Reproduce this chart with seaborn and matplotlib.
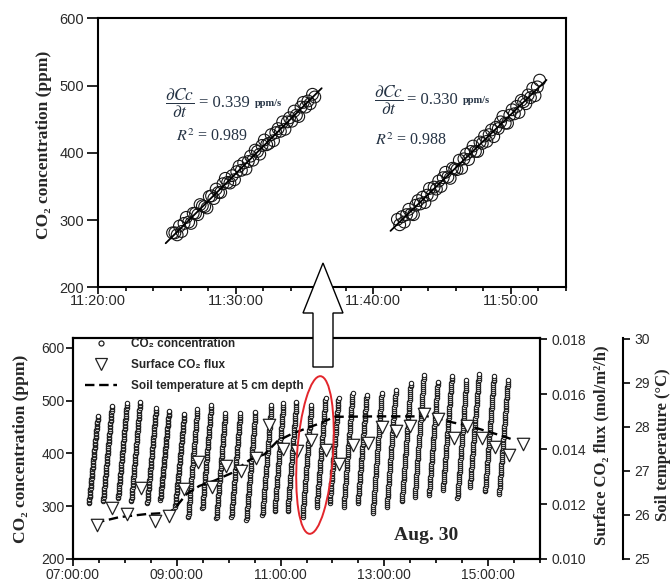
import numpy as np
import pandas as pd
import matplotlib
matplotlib.use("Agg")
import matplotlib.pyplot as plt
import seaborn as sns
from matplotlib.ticker import MultipleLocator, FixedLocator, FuncFormatter
from matplotlib.lines import Line2D
from matplotlib.patches import Polygon, Ellipse

# ---------------- data ----------------
# Detail view: two chamber closures, one reading every 10 s (ppm)
detail_starts = ["11:25:25", "11:41:45"]
detail_step_s = 10
detail_conc_1 = [281, 281, 278, 291, 283, 295, 304, 297, 295, 310, 310, 308, 323, 321, 320, 318,
                 335, 336, 332, 346, 341, 341, 354, 362, 356, 355, 366, 360, 372, 380, 374, 385,
                 376, 387, 395, 389, 404, 402, 398, 411, 419, 412, 414, 427, 418, 430, 436, 432,
                 446, 435, 446, 452, 447, 462, 456, 454, 468, 475, 468, 477, 473, 487, 483]
detail_conc_2 = [301, 293, 305, 297, 308, 316, 309, 308, 322, 329, 324, 334, 326, 337, 347, 337,
                 349, 346, 358, 350, 363, 371, 364, 362, 377, 376, 375, 389, 377, 391, 398, 390,
                 402, 410, 402, 402, 416, 414, 425, 417, 427, 434, 424, 438, 436, 446, 454, 444,
                 444, 456, 464, 458, 469, 460, 478, 476, 473, 486, 482, 496, 485, 498, 508]
detail_slopes = [0.339, 0.330]   # ppm/s
detail_r2 = [0.989, 0.988]

# Whole day (Aug. 30): chamber closures
cycle_start = ["07:18:30", "07:34:50", "07:52:10", "08:07:20", "08:25:50", "08:40:55",
               "08:58:20", "09:13:20", "09:29:35", "09:45:50", "10:03:10", "10:20:35",
               "10:39:05", "10:53:00", "11:08:05", "11:25:25", "11:41:45", "11:56:50",
               "12:13:00", "12:29:20", "12:46:40", "13:02:55", "13:20:20", "13:35:20",
               "13:51:35", "14:07:50", "14:24:35", "14:39:05", "14:56:30", "15:12:45"]
conc_open = [306, 309, 315, 309, 306, 312, 299, 279, 296, 277, 280, 274, 283, 290, 290,
             280, 299, 306, 299, 306, 287, 299, 309, 318, 321, 331, 315, 337, 328, 324]
conc_close = [471, 490, 495, 498, 486, 481, 475, 484, 492, 476, 476, 479, 492, 495, 498,
              492, 505, 505, 514, 511, 514, 520, 534, 548, 536, 547, 539, 550, 547, 539]
closure_s = 620
reading_step_s = 10

flux_time = ["07:28:10", "07:45:10", "08:02:35", "08:18:20", "08:35:05", "08:51:20", "09:07:50",
             "09:24:35", "09:40:20", "09:57:05", "10:13:55", "10:31:50", "10:47:10", "11:02:35",
             "11:19:05", "11:35:00", "11:52:10", "12:07:35", "12:23:50", "12:41:10", "12:57:05",
             "13:13:20", "13:29:35", "13:45:50", "14:02:25", "14:20:10", "14:35:40", "14:52:40",
             "15:08:30", "15:24:35", "15:40:55"]
flux = [0.01124, 0.01185, 0.01164, 0.01258, 0.01140, 0.01155, 0.01256, 0.01353, 0.01262,
        0.01338, 0.01320, 0.01367, 0.01489, 0.01400, 0.01394, 0.01433, 0.01395, 0.01344,
        0.01415, 0.01422, 0.01481, 0.01465, 0.01484, 0.01528, 0.01509, 0.01440, 0.01484,
        0.01439, 0.01407, 0.01378, 0.01419]

temp_time = ["07:25:30", "07:53:20", "08:24:40", "08:51:20", "08:59:25", "09:11:00", "09:26:05",
             "09:43:30", "10:04:20", "10:24:05", "10:41:30", "10:56:30", "11:12:45", "11:30:05",
             "11:45:15", "12:02:35", "12:54:45", "13:52:45", "14:19:25", "14:39:05", "14:58:50",
             "15:17:25", "15:30:05"]
soil_temp = [25.82, 25.95, 26.02, 26.05, 26.19, 26.47, 26.66, 26.78, 26.96, 27.25, 27.38,
             27.68, 27.84, 27.97, 28.08, 28.23, 28.24, 28.24, 28.10, 28.02, 27.90, 27.79, 27.70]

# ---------------- style ----------------
sns.set_style("ticks")
SANS = ["Liberation Sans", "DejaVu Sans"]
SERIF = ["Liberation Serif", "DejaVu Serif"]
plt.rcParams.update({
    "font.family": SANS,
    "font.size": 10,
    "axes.linewidth": 1.5,
    "axes.edgecolor": "black",
    "xtick.color": "black",
    "ytick.color": "black",
    "xtick.labelcolor": "#2a2a2a",
    "ytick.labelcolor": "#2a2a2a",
    "xtick.direction": "out",
    "ytick.direction": "out",
    "xtick.major.size": 5,
    "ytick.major.size": 6,
    "xtick.minor.size": 3,
    "ytick.minor.size": 3,
    "xtick.major.width": 1.2,
    "ytick.major.width": 1.2,
    "xtick.minor.width": 1.2,
    "xtick.major.pad": 1,
    "ytick.major.pad": 2,
})

W, H = 671, 585


def hours(t):
    h, m, s = (int(v) for v in t.split(":"))
    return h + m / 60 + s / 3600


def box(left, top, right, bottom):
    return [left / W, 1 - bottom / H, (right - left) / W, (bottom - top) / H]


def fpos(px, py):
    return px / W, 1 - py / H


fig = plt.figure(figsize=(W / 100, H / 100), dpi=100)
ax_top = fig.add_axes(box(98, 18.3, 566, 287.3))
ax_bot = fig.add_axes(box(73, 338, 540, 559))

# ---------------- detail panel ----------------
rows = []
for i, (start, conc) in enumerate(zip(detail_starts, [detail_conc_1, detail_conc_2])):
    t0 = (hours(start) - hours("11:20:00")) * 60
    for k, c in enumerate(conc):
        rows.append({"cycle": i, "minute": t0 + k * detail_step_s / 60, "conc": c})
detail = pd.DataFrame(rows)

sns.scatterplot(data=detail, x="minute", y="conc", ax=ax_top, marker="o", s=72,
                facecolor="none", edgecolor="#151515", linewidth=0.8, zorder=3, legend=False)
for i, slope in enumerate(detail_slopes):
    d = detail[detail["cycle"] == i]
    xm, ym = d["minute"].mean(), d["conc"].mean()
    xs = np.array([d["minute"].min() - 0.5, d["minute"].max() + 0.5])
    ys = ym + slope * 60 * (xs - xm)
    sns.lineplot(x=xs, y=ys, ax=ax_top, color="black", linewidth=1.3, zorder=4)

ax_top.set_xlim(0, 34)
ax_top.set_ylim(200, 600)
ax_top.xaxis.set_major_locator(MultipleLocator(10))
ax_top.xaxis.set_minor_locator(MultipleLocator(2))
ax_top.xaxis.set_major_formatter(FuncFormatter(lambda m, p: f"11:{20 + int(round(m)):02d}:00"))
ax_top.yaxis.set_major_locator(MultipleLocator(100))
ax_top.tick_params(axis="both", labelsize=10.5)
ax_top.tick_params(axis="x", pad=0)
ax_top.tick_params(axis="y", length=8)
ax_top.set_xlabel("")
ax_top.set_ylabel("CO₂ concentration (ppm)", family=SERIF, weight="bold", fontsize=12.5)
ax_top.yaxis.label.set_verticalalignment("center")
ax_top.yaxis.set_label_coords(-0.116, 0.53)

eq_color = "#263445"
for (fx, fy), (ex, ey), (ux, uy), (rx, ry), slope, r2 in [
        ((180, 103), (199, 103), (255, 103), (176, 137), detail_slopes[0], detail_r2[0]),
        ((389, 100), (407, 100), (463, 100), (375, 141), detail_slopes[1], detail_r2[1])]:
    fig.text(*fpos(fx, fy), r"$\dfrac{\partial Cc}{\partial t}$", math_fontfamily="stix",
             fontsize=12.5, ha="center", va="center", color=eq_color)
    fig.text(*fpos(ex, ey), f"= {slope:.3f}", family=SERIF, fontsize=12,
             ha="left", va="center", color=eq_color)
    fig.text(*fpos(ux, uy), "ppm/s", family=SERIF, fontsize=7.5, weight="bold",
             ha="left", va="center", color=eq_color)
    fig.text(*fpos(rx, ry), rf"$R^2$ = {r2:.3f}", family=SERIF, math_fontfamily="stix",
             fontsize=11.5, ha="left", va="center", color=eq_color)

# ---------------- whole-day panel ----------------
ax_temp = ax_bot.twinx()
ax_flux = ax_bot.twinx()

rows = []
n = closure_s // reading_step_s
for start, c0, c1 in zip(cycle_start, conc_open, conc_close):
    t0 = hours(start)
    for k in range(n + 1):
        rows.append({"hour": t0 + k * reading_step_s / 3600, "conc": c0 + (c1 - c0) * k / n})
day = pd.DataFrame(rows)
sns.scatterplot(data=day, x="hour", y="conc", ax=ax_bot, marker="o", s=10,
                facecolor="white", edgecolor="#1a1a1a", linewidth=0.75, legend=False, zorder=2)

temp_df = pd.DataFrame({"hour": [hours(t) for t in temp_time], "temp": soil_temp})
sns.lineplot(data=temp_df, x="hour", y="temp", ax=ax_temp, color="black", linewidth=1.7,
             linestyle=(0, (4, 2)), sort=False, estimator=None)

flux_df = pd.DataFrame({"hour": [hours(t) for t in flux_time], "flux": flux})
sns.scatterplot(data=flux_df, x="hour", y="flux", ax=ax_flux, marker="v", s=80,
                facecolor="white", edgecolor="#222222", linewidth=0.9, legend=False, zorder=5)

ax_bot.set_xlim(7, 16)
ax_bot.set_ylim(200, 618.6)
ax_bot.xaxis.set_major_locator(FixedLocator([7, 9, 11, 13, 15]))
ax_bot.xaxis.set_minor_locator(MultipleLocator(0.5))
ax_bot.xaxis.set_major_formatter(FuncFormatter(lambda h, p: f"{int(round(h)):02d}:00:00"))
ax_bot.yaxis.set_major_locator(MultipleLocator(100))
ax_bot.tick_params(axis="x", labelsize=10, pad=1.5)
ax_bot.tick_params(axis="y", labelsize=10, length=5, pad=1)
ax_bot.set_xlabel("")
ax_bot.set_ylabel("CO₂ concentration (ppm)", family=SERIF, weight="bold", fontsize=12.5)
ax_bot.yaxis.label.set_verticalalignment("center")
ax_bot.yaxis.set_label_coords(-0.111, 0.5)

ax_flux.set_ylim(0.010, 0.01804)
ax_flux.yaxis.set_major_locator(FixedLocator([0.010, 0.012, 0.014, 0.016, 0.018]))
ax_flux.yaxis.set_major_formatter(FuncFormatter(lambda v, p: f"{v:.3f}"))
ax_flux.tick_params(axis="y", labelsize=10, length=5, pad=3)
ax_flux.set_ylabel("Surface CO₂ flux (mol/m²/h)", family=SERIF, weight="bold", fontsize=12)
ax_flux.yaxis.label.set_verticalalignment("center")
ax_flux.yaxis.set_label_coords(1.132, 0.516)

ax_temp.set_ylim(25, 30.02)
ax_temp.yaxis.set_major_locator(MultipleLocator(1))
ax_temp.spines["right"].set_position(("axes", 1.178))
for side in ("top", "bottom", "left"):
    ax_temp.spines[side].set_visible(False)
ax_temp.tick_params(axis="y", labelsize=10, length=5, pad=3)
ax_temp.set_ylabel("Soil temperature (°C)", family=SERIF, weight="bold", fontsize=12)
ax_temp.yaxis.label.set_verticalalignment("center")
ax_temp.yaxis.set_label_coords(1.263, 0.516)

handles = [
    Line2D([], [], ls="none", marker="o", ms=3.6, mfc="white", mec="#222222", mew=0.9),
    Line2D([], [], ls="none", marker="v", ms=9, mfc="white", mec="#222222", mew=0.9),
    Line2D([], [], color="black", lw=1.7, ls=(0, (4, 2))),
]
labels = ["CO₂ concentration", "Surface CO₂ flux", "Soil temperature at 5 cm depth"]
ax_flux.legend(handles, labels, loc="upper left", bbox_to_anchor=(0.026, 1.0), frameon=False,
               borderpad=0, borderaxespad=0, handlelength=2.7, handletextpad=1.2,
               labelspacing=0.78, prop={"family": SANS, "weight": "bold", "size": 8.5})

fig.text(*fpos(426, 536), "Aug. 30", family=SERIF, weight="bold", fontsize=14,
         ha="center", va="center")

# red ring around the closures shown in the detail panel
fig.add_artist(Ellipse((315 / 100, (H - 455) / 100), 0.36, 1.58, angle=-4,
                       transform=fig.dpi_scale_trans, fill=False, ec="#e3262c", lw=1.4, zorder=9))

# block arrow linking the two panels
arrow_px = [(323, 263), (343, 313), (333, 313), (333, 367), (313, 367), (313, 313), (303, 313)]
fig.add_artist(Polygon([(x / 100, (H - y) / 100) for x, y in arrow_px], closed=True,
                       transform=fig.dpi_scale_trans, fc="white", ec="black", lw=1.0, zorder=10))

fig.savefig("out.png", dpi=100)
